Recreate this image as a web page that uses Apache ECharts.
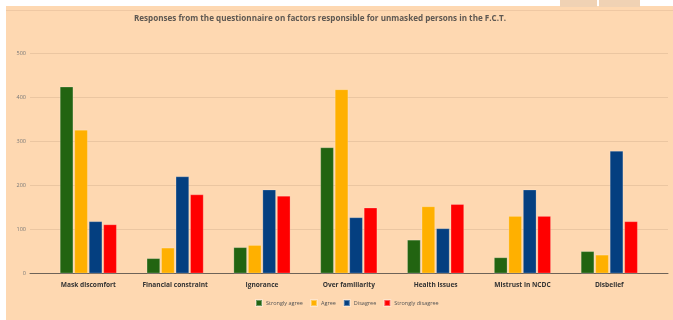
<!DOCTYPE html>
<html><head><meta charset="utf-8">
<script src="https://cdn.jsdelivr.net/npm/echarts@6/dist/echarts.min.js"></script>
<style>html,body{margin:0;padding:0;background:#fff}#c{width:673px;height:320px}</style>
</head><body><div id="c"></div>
<script>
const categories = ["Mask discomfort","Financial constraint","Ignorance","Over familiarity","Health issues","Mistrust in NCDC","Disbelief"];
const stronglyAgree = [424, 34, 59, 286, 76, 36, 50];
const agree = [326, 58, 64, 418, 152, 130, 42];
const disagree = [118, 220, 190, 127, 102, 190, 278];
const stronglyDisagree = [111, 179, 176, 149, 157, 130, 118];
const seriesNames = ["Strongly agree","Agree","Disagree","Strongly disagree"];
const yTicks = [0, 100, 200, 300, 400, 500];

const colors = ['#226411','#FFB000','#043F80','#FF0000'];
const chart = echarts.init(document.getElementById('c'), null, {renderer:'canvas'});
const values = [stronglyAgree, agree, disagree, stronglyDisagree];
chart.setOption({
  animation:false,
  backgroundColor:'#fff',
  color: colors,
  graphic:[
    {type:'rect', shape:{x:6,y:6,width:667,height:314}, style:{fill:'#FED8B1'}, z:-10},
    {type:'rect', shape:{x:6,y:10,width:667,height:1}, style:{fill:'#EFC8A3'}, z:-9},
    {type:'rect', shape:{x:560,y:0,width:37,height:7}, style:{fill:'#F0D2B4'}, z:-9},
    {type:'rect', shape:{x:599,y:0,width:41,height:7}, style:{fill:'#F0D2B4'}, z:-9}
  ],
  title:{
    text:'Responses from the questionnaire on factors responsible for unmasked persons in the F.C.T.',
    left:315, top:10, textAlign:'center',
    textStyle:{fontFamily:'Open Sans', fontSize:8.1, fontWeight:'bold', color:'#5e5852'}
  },
  legend:{
    data: seriesNames, bottom:8, left:250,
    itemWidth:6, itemHeight:6, itemGap:7, icon:'rect',
    textStyle:{fontFamily:'Open Sans', fontSize:5.5, color:'#555', padding:[0,0,0,-1]}
  },
  grid:[
    {left:30, right:5, top:53.3, bottom:46.7},
    {left:44.9, right:20.3, top:53.3, bottom:46.7}
  ],
  xAxis:[
    {type:'value', gridIndex:0, min:0, max:1, axisLine:{show:true, onZero:false, lineStyle:{color:'#6e6358', width:1}}, axisTick:{show:false}, axisLabel:{show:false}, splitLine:{show:false}},
    {type:'category', gridIndex:1, data:categories, axisLine:{show:false}, axisTick:{show:false},
     axisLabel:{interval:0, margin:8, fontFamily:'Open Sans', fontSize:6.6, fontWeight:'bold', color:'#333'}}
  ],
  yAxis:[
    {type:'value', gridIndex:0, min:0, max:500, interval:100, axisLine:{show:false}, axisTick:{show:false},
     axisLabel:{margin:4, fontFamily:'Open Sans', fontSize:5.5, color:'#777'},
     splitLine:{lineStyle:{color:'#EBC6A1', width:1}}},
    {type:'value', gridIndex:1, min:0, max:500, interval:100, show:false}
  ],
  series: values.map((v,i)=>({
    name: seriesNames[i], type:'bar', xAxisIndex:1, yAxisIndex:1,
    data: v, barWidth:13.3, barGap:'9%',
    itemStyle:{color:colors[i], borderColor:'rgba(255,255,255,0.35)', borderWidth:0.6}
  }))
});
</script></body></html>
